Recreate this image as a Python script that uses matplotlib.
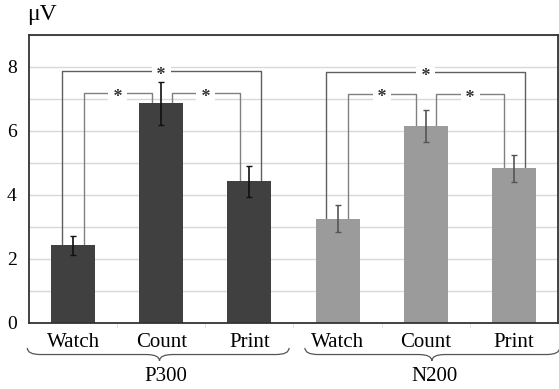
import matplotlib
matplotlib.use("Agg")
import matplotlib.pyplot as plt
from matplotlib.path import Path
import matplotlib.patches as patches
import matplotlib.transforms as mtransforms

plt.rcParams['font.family'] = ['Liberation Serif', 'DejaVu Serif']

# data
conditions = ['Watch', 'Count', 'Print', 'Watch', 'Count', 'Print']
means = [2.42, 6.86, 4.43, 3.26, 6.15, 4.83]
errors = [0.30, 0.68, 0.48, 0.41, 0.49, 0.43]
groups = ['P300', 'N200']
# significance brackets: (left bar, right bar, height)
brackets = [(0, 2, 7.86), (0, 1, 7.18), (1, 2, 7.18),
            (3, 5, 7.83), (3, 4, 7.17), (4, 5, 7.15)]

bar_colors = ['#404040'] * 3 + ['#9b9b9b'] * 3
err_colors = ['#111111'] * 3 + ['#555555'] * 3

fig = plt.figure(figsize=(5.59, 3.89), dpi=100)
ax = fig.add_axes([0.052, 0.17, 0.946, 0.74])

x = list(range(len(means)))
ax.bar(x, means, width=0.5, color=bar_colors, zorder=2)
for xi, m, e, c in zip(x, means, errors, err_colors):
    ax.errorbar(xi, m, yerr=e, color=c, lw=1.2, capsize=2, capthick=1, zorder=5)

# brackets
for i, j, h in brackets:
    outer = (j - i) > 1
    xl = i - 0.13 if outer else i + 0.12
    xr = j + 0.13 if outer else j - 0.11
    col = '#5f5f5f' if outer else '#808080'
    ax.plot([xl, xl, xr, xr], [means[i], h, h, means[j]], color=col, lw=1, zorder=1)
    ax.text((xl + xr) / 2, h - 0.12, ' * ', ha='center', va='center', fontsize=13,
            fontweight='bold', color='#333333', zorder=4,
            bbox=dict(facecolor='white', edgecolor='none', pad=0.3))

ax.set_xlim(-0.5, 5.5)
ax.set_ylim(0, 9)
ax.set_yticks([0, 2, 4, 6, 8])
ax.set_yticks(range(10), minor=True)
ax.yaxis.grid(True, which='both', color='#d9d9d9', lw=1, zorder=0)
ax.set_axisbelow(True)
ax.set_xticks(x)
ax.set_xticklabels(conditions)
ax.set_xticks([0.5, 1.5, 2.5, 3.5, 4.5], minor=True)
ax.tick_params(axis='x', which='major', length=0, pad=7, labelsize=15)
ax.tick_params(axis='x', which='minor', length=3, color='#dddddd')
ax.tick_params(axis='y', which='both', length=0, pad=9, labelsize=14)
for sp in ax.spines.values():
    sp.set_color('#333333')
    sp.set_linewidth(1.3)

ax.text(-0.003, 1.035, 'μV', transform=ax.transAxes, fontsize=17, ha='left', va='bottom')

# curly braces under the category labels
trans = mtransforms.blended_transform_factory(ax.transData, ax.transAxes)

def brace(x0, x1, xc, y0=-0.087, y1=-0.11, y2=-0.132, r=0.15):
    verts = [(x0, y0), (x0, y1), (x0 + r, y1),
             (xc - r, y1), (xc, y1), (xc, y2),
             (xc, y1), (xc + r, y1),
             (x1 - r, y1), (x1, y1), (x1, y0)]
    codes = [Path.MOVETO, Path.CURVE3, Path.CURVE3,
             Path.LINETO, Path.CURVE3, Path.CURVE3,
             Path.CURVE3, Path.CURVE3,
             Path.LINETO, Path.CURVE3, Path.CURVE3]
    p = patches.PathPatch(Path(verts, codes), transform=trans, fill=False,
                          edgecolor='#555555', lw=0.9, clip_on=False)
    ax.add_patch(p)

brace(-0.52, 2.45, 0.98)
brace(2.63, 5.52, 4.07)
for g, gx in zip(groups, [1.05, 4.1]):
    ax.text(gx, -0.185, g, transform=trans, ha='center', va='center', fontsize=15)

fig.savefig('out.png', dpi=100)
